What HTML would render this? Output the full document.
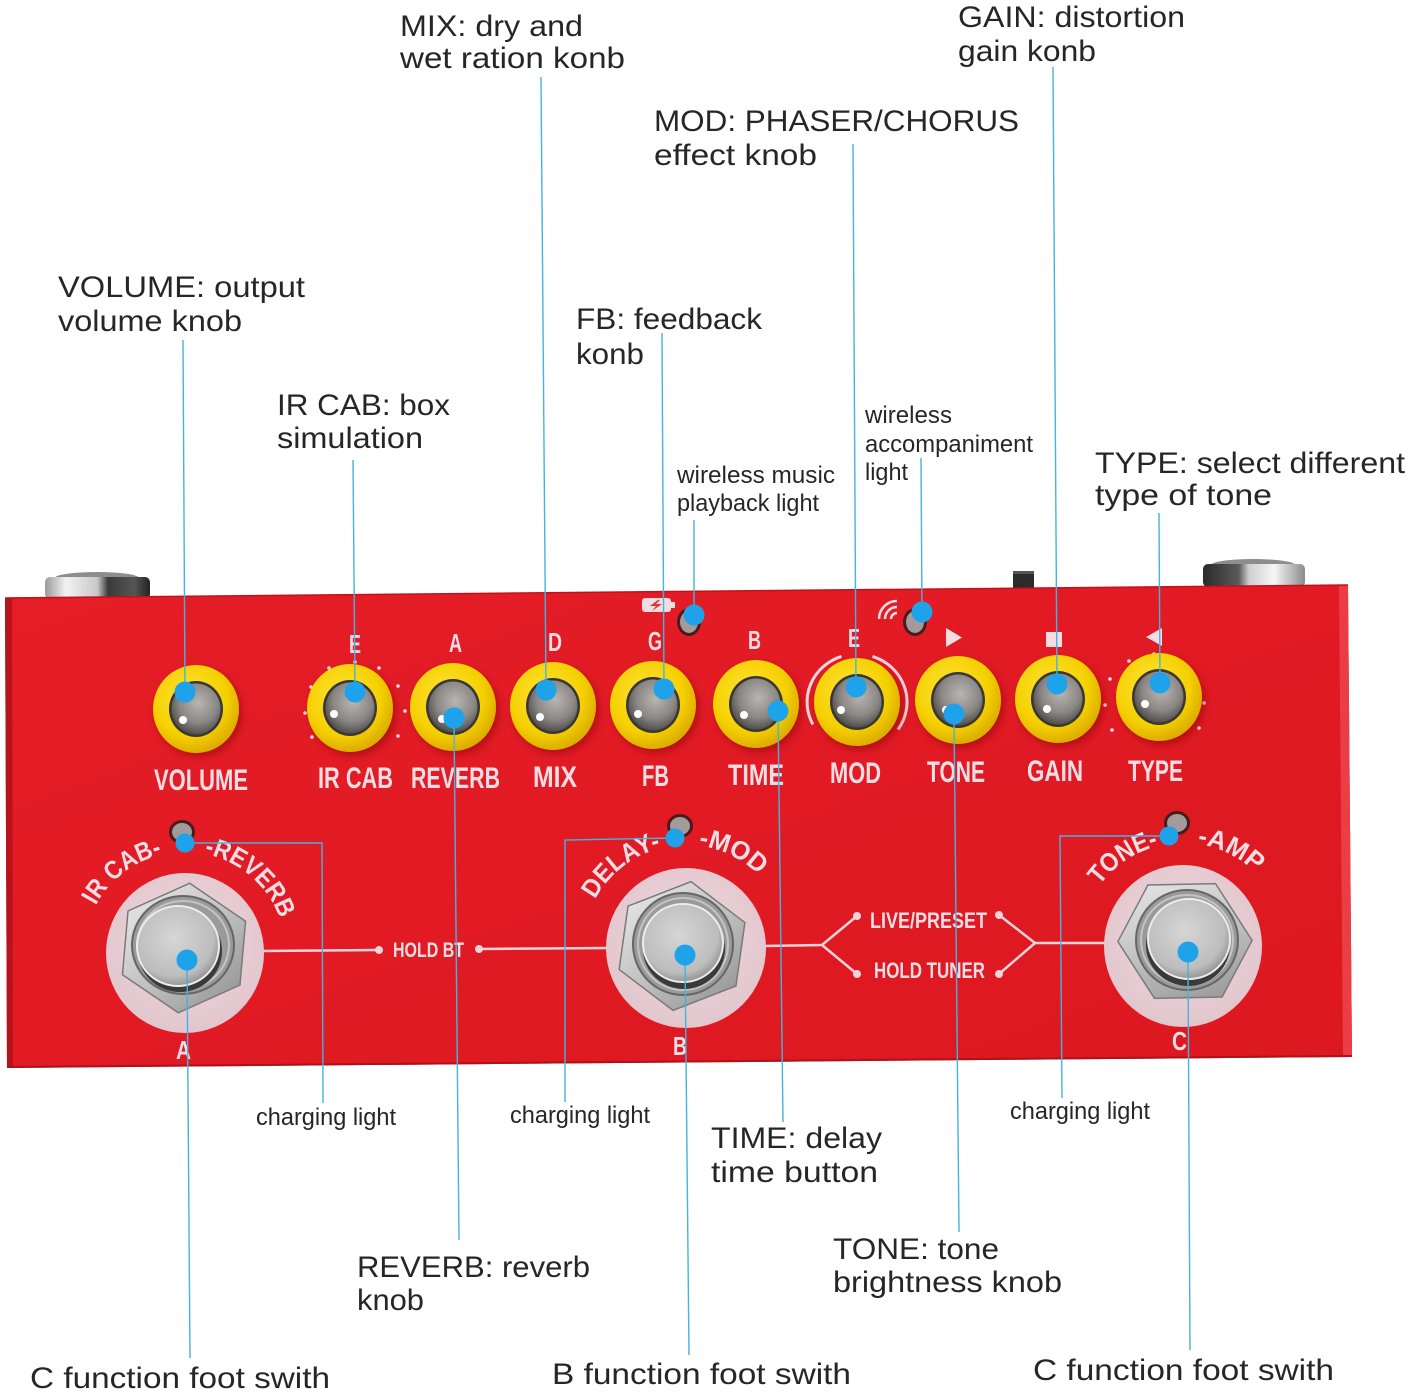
<!DOCTYPE html>
<html><head><meta charset="utf-8"><style>
html,body{margin:0;padding:0;background:#fff;}
svg{display:block;}
.lb{font-family:"Liberation Sans",Arial,sans-serif;font-size:30px;fill:#262626;}
.sm{font-family:"Liberation Sans",Arial,sans-serif;font-size:24px;fill:#262626;}
.pk{font-family:"Liberation Sans",Arial,sans-serif;font-weight:bold;fill:#f5dde4;}
</style></head><body>
<svg width="1411" height="1394" viewBox="0 0 1411 1394" xmlns="http://www.w3.org/2000/svg">
<defs>
 <radialGradient id="yel" cx="42%" cy="38%" r="62%">
  <stop offset="0" stop-color="#ffe43c"/><stop offset="0.7" stop-color="#f5d000"/><stop offset="1" stop-color="#dcae00"/>
 </radialGradient>
 <radialGradient id="gry" cx="55%" cy="38%" r="65%">
  <stop offset="0" stop-color="#b9b5b3"/><stop offset="0.6" stop-color="#8b8785"/><stop offset="1" stop-color="#4c4846"/>
 </radialGradient>
 <linearGradient id="hex" x1="0" y1="0" x2="1" y2="1">
  <stop offset="0" stop-color="#ececec"/><stop offset="0.5" stop-color="#c2c2c2"/><stop offset="1" stop-color="#8e8e8e"/>
 </linearGradient>
 <radialGradient id="btn" cx="45%" cy="40%" r="60%">
  <stop offset="0" stop-color="#d6d6d6"/><stop offset="0.8" stop-color="#bdbdbd"/><stop offset="1" stop-color="#969696"/>
 </radialGradient>
 <radialGradient id="disc" cx="50%" cy="45%" r="55%">
  <stop offset="0" stop-color="#efdadf"/><stop offset="1" stop-color="#e2c6cd"/>
 </radialGradient>
 <linearGradient id="red" x1="0" y1="0" x2="1" y2="1">
  <stop offset="0" stop-color="#e41d27"/><stop offset="0.5" stop-color="#e11a24"/><stop offset="1" stop-color="#dc1820"/>
 </linearGradient>
 <linearGradient id="jackL" x1="0" y1="0" x2="1" y2="0">
  <stop offset="0" stop-color="#9a9a9a"/><stop offset="0.2" stop-color="#f2f2f2"/><stop offset="0.5" stop-color="#c8c8c8"/><stop offset="0.6" stop-color="#3a3a3a"/><stop offset="0.85" stop-color="#555"/><stop offset="1" stop-color="#222"/>
 </linearGradient>
 <linearGradient id="jackR" x1="0" y1="0" x2="1" y2="0">
  <stop offset="0" stop-color="#2a2a2a"/><stop offset="0.35" stop-color="#5a5a5a"/><stop offset="0.45" stop-color="#cfcfcf"/><stop offset="0.7" stop-color="#f6f6f6"/><stop offset="1" stop-color="#8a8a8a"/>
 </linearGradient>
 <filter id="sh" x="-40%" y="-40%" width="180%" height="180%">
  <feDropShadow dx="3" dy="4" stdDeviation="4" flood-color="#7a0008" flood-opacity="0.45"/>
 </filter>
 <path id="aA1" d="M95.8,905.6 A101,101 0 0,1 162.3,854.6"/>
 <path id="aA2" d="M204.3,853.9 A101,101 0 0,1 279.9,918.5"/>
 <path id="aB1" d="M595.1,899.6 A103,103 0 0,1 661.1,848.1"/>
 <path id="aB2" d="M698.6,845.8 A103,103 0 0,1 758.8,875.2"/>
 <path id="aC1" d="M1099.7,885.5 A103,103 0 0,1 1158.1,846.1"/>
 <path id="aC2" d="M1197.3,844 A103,103 0 0,1 1255.8,873.2"/>
</defs>

<!-- jacks and switch -->
<ellipse cx="97" cy="578" rx="42" ry="6" fill="#8d8d8d"/>
<rect x="45" y="577" width="105" height="22" rx="5" fill="url(#jackL)"/>
<ellipse cx="1253" cy="565" rx="42" ry="6" fill="#8d8d8d"/>
<rect x="1203" y="564" width="102" height="23" rx="5" fill="url(#jackR)"/>
<rect x="1013" y="571" width="21" height="17" fill="#2b2b2b"/>
<rect x="1013" y="571" width="21" height="3" fill="#555"/>

<!-- pedal body -->
<polygon points="5,598 1348,585 1352,1057 7,1068" fill="url(#red)"/>
<polygon points="5,598 12,598 13,1067 7,1068" fill="#b8121b"/>
<polygon points="1339,585 1348,585 1352,1057 1343,1057" fill="#ea3d45"/>
<line x1="5" y1="598" x2="1348" y2="585" stroke="#c0121a" stroke-width="1.5"/>
<line x1="7" y1="1067" x2="1352" y2="1056" stroke="#b0101a" stroke-width="2"/>

<!-- top icons -->
<rect x="642" y="598" width="29" height="14" rx="3" fill="#f1dce2"/>
<rect x="671" y="602" width="4" height="6" fill="#f1dce2"/>
<polygon points="658,600 650,606 656,606 652,611 662,604 656,604 660,600" fill="#e0313a"/>
<ellipse cx="689" cy="622" rx="12" ry="14" fill="#4a1a1c"/>
<ellipse cx="689" cy="622" rx="9" ry="11" fill="#a39a9a"/>
<g fill="none" stroke="#f3dce2" stroke-width="2.5">
 <path d="M891,619 A6,6 0 0,1 897,613"/>
 <path d="M885,619 A12,12 0 0,1 897,607"/>
 <path d="M879,619 A18,18 0 0,1 897,601"/>
</g>
<ellipse cx="915" cy="622" rx="12" ry="14" fill="#4a1a1c"/>
<ellipse cx="915" cy="622" rx="9" ry="11" fill="#a39a9a"/>

<!-- letters above knobs -->
<g class="pk" font-size="26">
 <text x="349" y="653" textLength="12" lengthAdjust="spacingAndGlyphs">E</text>
 <text x="449" y="652" textLength="13" lengthAdjust="spacingAndGlyphs">A</text>
 <text x="548" y="651" textLength="14" lengthAdjust="spacingAndGlyphs">D</text>
 <text x="648" y="650" textLength="14" lengthAdjust="spacingAndGlyphs">G</text>
 <text x="748" y="649" textLength="13" lengthAdjust="spacingAndGlyphs">B</text>
 <text x="848" y="647" textLength="12" lengthAdjust="spacingAndGlyphs">E</text>
</g>
<polygon points="946,628 962,637.5 946,647" fill="#f3dce2"/>
<rect x="1046" y="632" width="16" height="15" fill="#f3dce2"/>
<polygon points="1162,628 1146,637 1162,646" fill="#f3dce2"/>

<!-- dots around IR CAB and TYPE -->
<g fill="#f3dce2">
 <circle cx="329" cy="668" r="1.8"/><circle cx="355" cy="662" r="1.8"/><circle cx="379" cy="668" r="1.8"/>
 <circle cx="398" cy="686" r="1.8"/><circle cx="311" cy="687" r="1.8"/><circle cx="305" cy="713" r="1.8"/>
 <circle cx="405" cy="711" r="1.8"/><circle cx="312" cy="737" r="1.8"/><circle cx="398" cy="736" r="1.8"/>
 <circle cx="1129" cy="661" r="1.8"/><circle cx="1154" cy="654" r="1.8"/><circle cx="1110" cy="679" r="1.8"/>
 <circle cx="1204" cy="703" r="1.8"/><circle cx="1112" cy="730" r="1.8"/><circle cx="1199" cy="728" r="1.8"/>
 <circle cx="1105" cy="705" r="1.8"/>
</g>
<!-- MOD arc -->
<g fill="none" stroke="#f1d6dc" stroke-width="3">
 <path d="M812.9,724.5 A50,48 0 0,1 841.5,656.4"/>
 <path d="M872.5,656.4 A50,48 0 0,1 898,729.5"/>
</g>

<!-- knobs -->
<g>
 <g transform="translate(196,709)"><ellipse rx="43" ry="44" fill="url(#yel)" filter="url(#sh)"/><ellipse rx="27" ry="28" fill="#3a3634"/><ellipse rx="24.5" ry="25.5" fill="url(#gry)"/><circle cx="-13" cy="11" r="4" fill="#fff"/></g>
 <g transform="translate(350,708)"><ellipse rx="43" ry="44" fill="url(#yel)" filter="url(#sh)"/><ellipse rx="27" ry="28" fill="#3a3634"/><ellipse rx="24.5" ry="25.5" fill="url(#gry)"/><circle cx="-16" cy="6" r="4" fill="#fff"/></g>
 <g transform="translate(453,707)"><ellipse rx="43" ry="44" fill="url(#yel)" filter="url(#sh)"/><ellipse rx="27" ry="28" fill="#3a3634"/><ellipse rx="24.5" ry="25.5" fill="url(#gry)"/><circle cx="-11" cy="12" r="4" fill="#fff"/></g>
 <g transform="translate(553,706)"><ellipse rx="43" ry="44" fill="url(#yel)" filter="url(#sh)"/><ellipse rx="27" ry="28" fill="#3a3634"/><ellipse rx="24.5" ry="25.5" fill="url(#gry)"/><circle cx="-13" cy="11" r="4" fill="#fff"/></g>
 <g transform="translate(653,705)"><ellipse rx="43" ry="44" fill="url(#yel)" filter="url(#sh)"/><ellipse rx="27" ry="28" fill="#3a3634"/><ellipse rx="24.5" ry="25.5" fill="url(#gry)"/><circle cx="-15" cy="9" r="4" fill="#fff"/></g>
 <g transform="translate(756,704)"><ellipse rx="43" ry="44" fill="url(#yel)" filter="url(#sh)"/><ellipse rx="27" ry="28" fill="#3a3634"/><ellipse rx="24.5" ry="25.5" fill="url(#gry)"/><circle cx="-12" cy="11" r="4" fill="#fff"/></g>
 <g transform="translate(857,702)"><ellipse rx="43" ry="44" fill="url(#yel)" filter="url(#sh)"/><ellipse rx="27" ry="28" fill="#3a3634"/><ellipse rx="24.5" ry="25.5" fill="url(#gry)"/><circle cx="-16" cy="8" r="4" fill="#fff"/></g>
 <g transform="translate(958,700)"><ellipse rx="43" ry="44" fill="url(#yel)" filter="url(#sh)"/><ellipse rx="27" ry="28" fill="#3a3634"/><ellipse rx="24.5" ry="25.5" fill="url(#gry)"/><circle cx="-12" cy="10" r="4" fill="#fff"/></g>
 <g transform="translate(1058,699)"><ellipse rx="43" ry="44" fill="url(#yel)" filter="url(#sh)"/><ellipse rx="27" ry="28" fill="#3a3634"/><ellipse rx="24.5" ry="25.5" fill="url(#gry)"/><circle cx="-11" cy="10" r="4" fill="#fff"/></g>
 <g transform="translate(1159,697)"><ellipse rx="43" ry="44" fill="url(#yel)" filter="url(#sh)"/><ellipse rx="27" ry="28" fill="#3a3634"/><ellipse rx="24.5" ry="25.5" fill="url(#gry)"/><circle cx="-14" cy="7" r="4" fill="#fff"/></g>
</g>

<!-- knob labels -->
<g class="pk" font-size="30">
 <text x="154" y="790" textLength="94" lengthAdjust="spacingAndGlyphs">VOLUME</text>
 <text x="318" y="788" textLength="75" lengthAdjust="spacingAndGlyphs">IR CAB</text>
 <text x="411" y="788" textLength="89" lengthAdjust="spacingAndGlyphs">REVERB</text>
 <text x="533" y="787" textLength="44" lengthAdjust="spacingAndGlyphs">MIX</text>
 <text x="642" y="786" textLength="27" lengthAdjust="spacingAndGlyphs">FB</text>
 <text x="728" y="785" textLength="56" lengthAdjust="spacingAndGlyphs">TIME</text>
 <text x="830" y="783" textLength="51" lengthAdjust="spacingAndGlyphs">MOD</text>
 <text x="927" y="782" textLength="58" lengthAdjust="spacingAndGlyphs">TONE</text>
 <text x="1027" y="781" textLength="56" lengthAdjust="spacingAndGlyphs">GAIN</text>
 <text x="1128" y="781" textLength="55" lengthAdjust="spacingAndGlyphs">TYPE</text>
</g>

<!-- pink connector lines -->
<g stroke="#f3d3da" stroke-width="2.5" fill="none">
 <line x1="262" y1="951" x2="379" y2="950"/>
 <line x1="479" y1="949" x2="608" y2="948"/>
 <polyline points="764,946 822,945 857,916"/>
 <line x1="822" y1="945" x2="857" y2="974"/>
 <polyline points="999,915 1035,943 1105,943"/>
 <line x1="1035" y1="943" x2="999" y2="974"/>
</g>
<g fill="#f3d3da">
 <circle cx="379" cy="950" r="4"/><circle cx="479" cy="949" r="4"/>
 <circle cx="857" cy="916" r="4"/><circle cx="857" cy="974" r="4"/>
 <circle cx="999" cy="915" r="4"/><circle cx="999" cy="974" r="4"/>
</g>
<g class="pk">
 <text x="393" y="957" font-size="21" textLength="71" lengthAdjust="spacingAndGlyphs">HOLD BT</text>
 <text x="870" y="928" font-size="22" textLength="117" lengthAdjust="spacingAndGlyphs">LIVE/PRESET</text>
 <text x="874" y="978" font-size="22" textLength="111" lengthAdjust="spacingAndGlyphs">HOLD TUNER</text>
</g>

<!-- footswitches -->
<g>
 <ellipse cx="185" cy="953" rx="79" ry="80" fill="url(#disc)"/>
 <polygon points="184,883 243,916 243,980 184,1013 125,980 125,916" fill="url(#hex)" stroke="#7a7a7a" stroke-width="1.5" transform="rotate(5 184 948)"/>
 <ellipse cx="183" cy="945" rx="51" ry="49" fill="#9a9a9a" stroke="#666" stroke-width="2"/>
 <ellipse cx="183" cy="945" rx="46" ry="44" fill="none" stroke="#c4c4c4" stroke-width="2"/>
 <ellipse cx="180" cy="951" rx="42" ry="41" fill="#3a3a3a"/>
 <ellipse cx="178" cy="946" rx="41" ry="40" fill="url(#btn)" stroke="#ececec" stroke-width="2"/>

 <ellipse cx="686" cy="948" rx="80" ry="80" fill="url(#disc)"/>
 <polygon points="682,881 741,914 741,978 682,1011 623,978 623,914" fill="url(#hex)" stroke="#7a7a7a" stroke-width="1.5" transform="rotate(8 682 946)"/>
 <ellipse cx="683" cy="944" rx="50" ry="51" fill="#9a9a9a" stroke="#666" stroke-width="2"/>
 <ellipse cx="683" cy="944" rx="45" ry="46" fill="none" stroke="#c4c4c4" stroke-width="2"/>
 <ellipse cx="684" cy="949" rx="41" ry="40" fill="#3a3a3a"/>
 <ellipse cx="683" cy="943" rx="40" ry="39" fill="url(#btn)" stroke="#ececec" stroke-width="2"/>

 <ellipse cx="1183" cy="946" rx="79" ry="81" fill="url(#disc)"/>
 <polygon points="1185,876 1244,909 1244,973 1185,1006 1126,973 1126,909" fill="url(#hex)" stroke="#7a7a7a" stroke-width="1.5" transform="rotate(28 1185 941)"/>
 <ellipse cx="1187" cy="940" rx="51" ry="50" fill="#9a9a9a" stroke="#666" stroke-width="2"/>
 <ellipse cx="1187" cy="940" rx="46" ry="45" fill="none" stroke="#c4c4c4" stroke-width="2"/>
 <ellipse cx="1188" cy="945" rx="42" ry="41" fill="#3a3a3a"/>
 <ellipse cx="1189" cy="939" rx="41" ry="40" fill="url(#btn)" stroke="#ececec" stroke-width="2"/>
</g>
<g class="pk" font-size="26">
 <text x="176" y="1059" textLength="15" lengthAdjust="spacingAndGlyphs">A</text>
 <text x="673" y="1055" textLength="14" lengthAdjust="spacingAndGlyphs">B</text>
 <text x="1172" y="1050" textLength="15" lengthAdjust="spacingAndGlyphs">C</text>
</g>

<!-- footswitch LEDs -->
<ellipse cx="182" cy="832" rx="13" ry="12" fill="#4a1a1c"/><ellipse cx="182" cy="832" rx="10" ry="9" fill="#a39a9a"/>
<ellipse cx="680" cy="826" rx="13" ry="12" fill="#4a1a1c"/><ellipse cx="680" cy="826" rx="10" ry="9" fill="#a39a9a"/>
<ellipse cx="1177" cy="823" rx="13" ry="12" fill="#4a1a1c"/><ellipse cx="1177" cy="823" rx="10" ry="9" fill="#a39a9a"/>

<!-- curved labels -->
<g class="pk" font-size="26">
 <text><textPath href="#aA1" textLength="86" lengthAdjust="spacingAndGlyphs">IR CAB-</textPath></text>
 <text><textPath href="#aA2" textLength="104" lengthAdjust="spacingAndGlyphs">-REVERB</textPath></text>
 <text><textPath href="#aB1" textLength="86" lengthAdjust="spacingAndGlyphs">DELAY-</textPath></text>
 <text><textPath href="#aB2" textLength="68" lengthAdjust="spacingAndGlyphs">-MOD</textPath></text>
 <text><textPath href="#aC1" textLength="72" lengthAdjust="spacingAndGlyphs">TONE-</textPath></text>
 <text><textPath href="#aC2" textLength="66" lengthAdjust="spacingAndGlyphs">-AMP</textPath></text>
</g>

<!-- blue annotation lines -->
<g stroke="#45b3e0" stroke-width="1.4" fill="none">
 <line x1="183" y1="340" x2="185" y2="692"/>
 <line x1="353" y1="460" x2="355" y2="692"/>
 <line x1="541" y1="77" x2="546" y2="690"/>
 <line x1="662" y1="333" x2="664" y2="689"/>
 <line x1="694" y1="520" x2="694" y2="615"/>
 <line x1="853" y1="144" x2="856" y2="687"/>
 <line x1="921" y1="458" x2="922" y2="612"/>
 <line x1="1053" y1="67" x2="1057" y2="684"/>
 <line x1="1159" y1="513" x2="1160" y2="683"/>
 <line x1="454" y1="718" x2="459" y2="1240"/>
 <line x1="778" y1="711" x2="783" y2="1122"/>
 <line x1="954" y1="714" x2="959" y2="1232"/>
 <line x1="187" y1="960" x2="190" y2="1358"/>
 <line x1="685" y1="955" x2="689" y2="1355"/>
 <line x1="1188" y1="952" x2="1190" y2="1350"/>
 <polyline points="185,843 322,843 323,1103"/>
 <polyline points="675,838 565,840 565,1102"/>
 <polyline points="1169,836 1060,836 1062,1098"/>
</g>
<g fill="#1ea3ea">
 <circle cx="185" cy="692" r="10.5"/><circle cx="355" cy="692" r="10.5"/><circle cx="454" cy="718" r="10.5"/>
 <circle cx="546" cy="690" r="10.5"/><circle cx="664" cy="689" r="10.5"/><circle cx="694" cy="615" r="10.5"/>
 <circle cx="778" cy="711" r="10.5"/><circle cx="856" cy="687" r="10.5"/><circle cx="922" cy="612" r="10.5"/>
 <circle cx="954" cy="714" r="10.5"/><circle cx="1057" cy="684" r="10.5"/><circle cx="1160" cy="683" r="10.5"/>
 <circle cx="187" cy="960" r="10.5"/><circle cx="685" cy="955" r="10.5"/><circle cx="1188" cy="952" r="10.5"/>
 <circle cx="185" cy="843" r="9.5"/><circle cx="675" cy="838" r="9.5"/><circle cx="1169" cy="836" r="9.5"/>
</g>

<!-- annotation text -->
<g class="lb">
 <text x="400" y="36" textLength="183" lengthAdjust="spacingAndGlyphs">MIX: dry and</text>
 <text x="400" y="68" textLength="225" lengthAdjust="spacingAndGlyphs">wet ration konb</text>
 <text x="958" y="27" textLength="227" lengthAdjust="spacingAndGlyphs">GAIN: distortion</text>
 <text x="958" y="61" textLength="138" lengthAdjust="spacingAndGlyphs">gain konb</text>
 <text x="654" y="131" textLength="365" lengthAdjust="spacingAndGlyphs">MOD: PHASER/CHORUS</text>
 <text x="654" y="165" textLength="163" lengthAdjust="spacingAndGlyphs">effect knob</text>
 <text x="58" y="297" textLength="247" lengthAdjust="spacingAndGlyphs">VOLUME: output</text>
 <text x="58" y="331" textLength="184" lengthAdjust="spacingAndGlyphs">volume knob</text>
 <text x="277" y="415" textLength="173" lengthAdjust="spacingAndGlyphs">IR CAB: box</text>
 <text x="277" y="448" textLength="146" lengthAdjust="spacingAndGlyphs">simulation</text>
 <text x="576" y="329" textLength="186" lengthAdjust="spacingAndGlyphs">FB: feedback</text>
 <text x="576" y="364" textLength="68" lengthAdjust="spacingAndGlyphs">konb</text>
 <text x="1095" y="473" textLength="310" lengthAdjust="spacingAndGlyphs">TYPE: select different</text>
 <text x="1095" y="505" textLength="177" lengthAdjust="spacingAndGlyphs">type of tone</text>
 <text x="711" y="1148" textLength="171" lengthAdjust="spacingAndGlyphs">TIME: delay</text>
 <text x="711" y="1182" textLength="167" lengthAdjust="spacingAndGlyphs">time button</text>
 <text x="357" y="1277" textLength="233" lengthAdjust="spacingAndGlyphs">REVERB: reverb</text>
 <text x="357" y="1310" textLength="67" lengthAdjust="spacingAndGlyphs">knob</text>
 <text x="833" y="1259" textLength="166" lengthAdjust="spacingAndGlyphs">TONE: tone</text>
 <text x="833" y="1292" textLength="229" lengthAdjust="spacingAndGlyphs">brightness knob</text>
 <text x="30" y="1388" textLength="300" lengthAdjust="spacingAndGlyphs">C function foot swith</text>
 <text x="552" y="1384" textLength="299" lengthAdjust="spacingAndGlyphs">B function foot swith</text>
 <text x="1033" y="1380" textLength="301" lengthAdjust="spacingAndGlyphs">C function foot swith</text>
</g>
<g class="sm">
 <text x="677" y="483" textLength="158" lengthAdjust="spacingAndGlyphs">wireless music</text>
 <text x="677" y="511" textLength="142" lengthAdjust="spacingAndGlyphs">playback light</text>
 <text x="865" y="423" textLength="87" lengthAdjust="spacingAndGlyphs">wireless</text>
 <text x="865" y="452" textLength="168" lengthAdjust="spacingAndGlyphs">accompaniment</text>
 <text x="865" y="480" textLength="43" lengthAdjust="spacingAndGlyphs">light</text>
 <text x="256" y="1125" textLength="140" lengthAdjust="spacingAndGlyphs">charging light</text>
 <text x="510" y="1123" textLength="140" lengthAdjust="spacingAndGlyphs">charging light</text>
 <text x="1010" y="1119" textLength="140" lengthAdjust="spacingAndGlyphs">charging light</text>
</g>
</svg>
</body></html>
